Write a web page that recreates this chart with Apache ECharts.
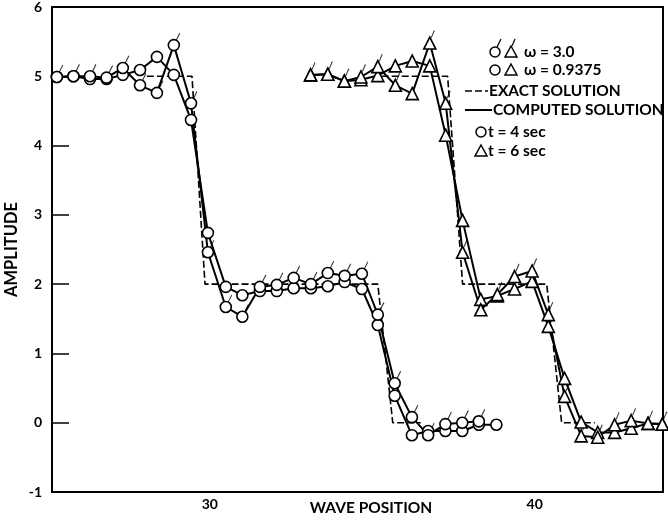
<!DOCTYPE html>
<html>
<head>
<meta charset="utf-8">
<script src="https://cdn.jsdelivr.net/npm/echarts@6/dist/echarts.min.js"></script>
<style>
  html, body { margin: 0; padding: 0; background: #fff; }
  #chart { width: 668px; height: 520px; }
</style>
</head>
<body>
<div id="chart"></div>
<script>
// Wave position samples for each output time
const xT4 = [25.29, 25.80, 26.31, 26.82, 27.32, 27.85, 28.37, 28.89, 29.42, 29.94, 30.49, 31.00, 31.54, 32.06, 32.58, 33.11, 33.63, 34.15, 34.68, 35.17, 35.69, 36.22, 36.72, 37.25, 37.77, 38.28, 38.82];
const xT6 = [33.10, 33.63, 34.14, 34.65, 35.17, 35.71, 36.23, 36.77, 37.26, 37.78, 38.34, 38.85, 39.38, 39.92, 40.42, 40.92, 41.43, 41.94, 42.46, 42.97, 43.49, 43.93];

// Computed amplitudes, t = 4 sec
const ampT4w30   = [4.99, 5.00, 5.00, 4.98, 5.12, 4.87, 4.76, 5.45, 4.61, 2.46, 1.67, 1.53, 1.96, 1.99, 2.09, 2.00, 2.16, 2.12, 2.15, 1.56, 0.57, 0.08, -0.18, -0.02, 0.00, 0.02, null];
const ampT4w0937 = [4.99, 5.00, 4.96, 4.96, 5.02, 5.09, 5.28, 5.02, 4.37, 2.74, 1.96, 1.84, 1.90, 1.90, 1.94, 1.94, 1.97, 2.03, 1.93, 1.41, 0.39, -0.18, -0.12, -0.12, -0.12, -0.03, -0.03];

// Computed amplitudes, t = 6 sec
const ampT6w30   = [5.02, 5.03, 4.93, 4.99, 5.14, 4.87, 4.75, 5.48, 4.61, 2.46, 1.63, 1.85, 2.11, 2.19, 1.56, 0.38, -0.19, -0.21, -0.03, 0.03, -0.01, -0.02];
const ampT6w0937 = [5.02, 5.03, 4.93, 4.95, 5.01, 5.15, 5.22, 5.15, 4.15, 2.92, 1.78, 1.83, 1.93, 2.04, 1.39, 0.64, 0.01, -0.14, -0.14, -0.08, -0.01, -0.02];

// Exact solution (stepped profile) around each front
const exactT4X = [28.06, 29.45, 29.85, 35.17, 35.63, 36.49];
const exactT4Y = [5, 5, 2, 2, 0, 0];
const exactT6X = [35.29, 37.32, 37.78, 40.37, 40.83, 41.85];
const exactT6Y = [5, 5, 2, 2, 0, 0];

// Axis ticks
const xTickValues = [30, 40];
const yTickValues = [-1, 0, 1, 2, 3, 4, 5, 6];

const FONT = 'Lato';
const pairs = (xs, ys) => xs.map((x, i) => [x, ys[i]]);

const flagPath = 'path://M0,8L4,0';

function computed(name, xs, ys, symbol, size) {
  return {
    name: name,
    type: 'line',
    data: pairs(xs, ys),
    symbol: symbol,
    symbolSize: size,
    showSymbol: true,
    connectNulls: false,
    z: 3,
    lineStyle: { color: '#000', width: 2 },
    itemStyle: { color: '#fff', borderColor: '#000', borderWidth: 1.6 },
    silent: true
  };
}

function flags(xs, ys, offset, size) {
  return {
    type: 'scatter',
    data: pairs(xs, ys).filter(p => p[1] !== null),
    symbol: flagPath,
    symbolSize: size,
    symbolOffset: offset,
    z: 2,
    itemStyle: { color: '#000', borderColor: '#000', borderWidth: 1.2 },
    silent: true
  };
}

function exact(xs, ys) {
  return {
    type: 'line',
    data: pairs(xs, ys),
    symbol: 'none',
    z: 1,
    lineStyle: { color: '#000', width: 1.6, type: [7, 3] },
    silent: true
  };
}

// Legend block drawn in the upper right
const legendText = (x, y, text) => ({
  type: 'text', x: x, y: y,
  style: { text: text, fill: '#000', font: 'bold 15.5px ' + FONT, verticalAlign: 'middle', align: 'left' }
});
const legendCircle = (cx, cy) => ({
  type: 'circle', shape: { cx: cx, cy: cy, r: 5 },
  style: { fill: '#fff', stroke: '#000', lineWidth: 1.5 }
});
const legendTriangle = (cx, cy) => ({
  type: 'polygon', shape: { points: [[cx, cy - 6], [cx + 6, cy + 5], [cx - 6, cy + 5]] },
  style: { fill: '#fff', stroke: '#000', lineWidth: 1.5 }
});
const legendFlag = (x1, y1, x2, y2) => ({
  type: 'line', shape: { x1: x1, y1: y1, x2: x2, y2: y2 },
  style: { stroke: '#000', lineWidth: 1.2 }
});

const chart = echarts.init(document.getElementById('chart'), null, { renderer: 'canvas' });
chart.setOption({
  animation: false,
  backgroundColor: '#fff',
  grid: {
    left: 52, right: 5, top: 7, bottom: 28,
    containLabel: false,
    outerBoundsMode: 'none',
    show: true, borderColor: '#000', borderWidth: 2, backgroundColor: 'transparent'
  },
  xAxis: {
    type: 'value',
    min: 25.14,
    max: 43.95,
    name: 'WAVE POSITION',
    nameLocation: 'middle',
    nameGap: 8,
    nameMoveOverlap: false,
    nameTextStyle: { fontFamily: FONT, fontWeight: 'bold', fontSize: 15.5, color: '#000', padding: [0, 0, 0, 27], verticalAlign: 'top' },
    axisLine: { show: true, onZero: false, lineStyle: { color: '#000', width: 2 } },
    axisTick: { show: false },
    splitLine: { show: false },
    axisLabel: { customValues: xTickValues, color: '#000', fontFamily: FONT, fontWeight: 'bold', fontSize: 14, margin: 5 }
  },
  yAxis: {
    type: 'value',
    min: -1,
    max: 6,
    interval: 1,
    name: 'AMPLITUDE',
    nameLocation: 'middle',
    nameRotate: 90,
    nameGap: 32,
    nameMoveOverlap: false,
    nameTextStyle: { fontFamily: FONT, fontWeight: 'bold', fontSize: 16.5, color: '#000' },
    axisLine: { show: true, onZero: false, lineStyle: { color: '#000', width: 2 } },
    axisTick: { show: true, inside: true, length: 17, customValues: yTickValues, lineStyle: { color: '#000', width: 1.5 } },
    splitLine: { show: false },
    axisLabel: { customValues: yTickValues, color: '#000', fontFamily: FONT, fontWeight: 'bold', fontSize: 14, margin: 10 }
  },
  series: [
    exact(exactT4X, exactT4Y),
    exact(exactT6X, exactT6Y),
    flags(xT4, ampT4w30, [4, -8], [4, 8]),
    flags(xT6, ampT6w30, [3, -9], [3, 7]),
    computed('t = 4 sec, ω = 0.9375', xT4, ampT4w0937, 'circle', 11),
    computed('t = 4 sec, ω = 3.0', xT4, ampT4w30, 'circle', 11),
    computed('t = 6 sec, ω = 0.9375', xT6, ampT6w0937, 'triangle', 12),
    computed('t = 6 sec, ω = 3.0', xT6, ampT6w30, 'triangle', 12)
  ],
  graphic: [
    legendFlag(497, 47, 501, 39), legendCircle(495, 52),
    legendFlag(512, 46, 515, 39), legendTriangle(511, 52),
    legendText(524, 52, 'ω = 3.0'),
    legendCircle(495, 70), legendTriangle(511, 70),
    legendText(524, 70, 'ω = 0.9375'),
    { type: 'line', shape: { x1: 465, y1: 91, x2: 488, y2: 91 }, style: { stroke: '#000', lineWidth: 1.6, lineDash: [7, 3] } },
    legendText(489, 91, 'EXACT SOLUTION'),
    { type: 'line', shape: { x1: 465, y1: 110, x2: 492, y2: 110 }, style: { stroke: '#000', lineWidth: 2 } },
    legendText(493, 110, 'COMPUTED SOLUTION'),
    legendCircle(481, 132),
    legendText(488, 132, 't = 4 sec'),
    legendTriangle(481, 151),
    legendText(488, 151, 't = 6 sec')
  ]
});
</script>
</body>
</html>
